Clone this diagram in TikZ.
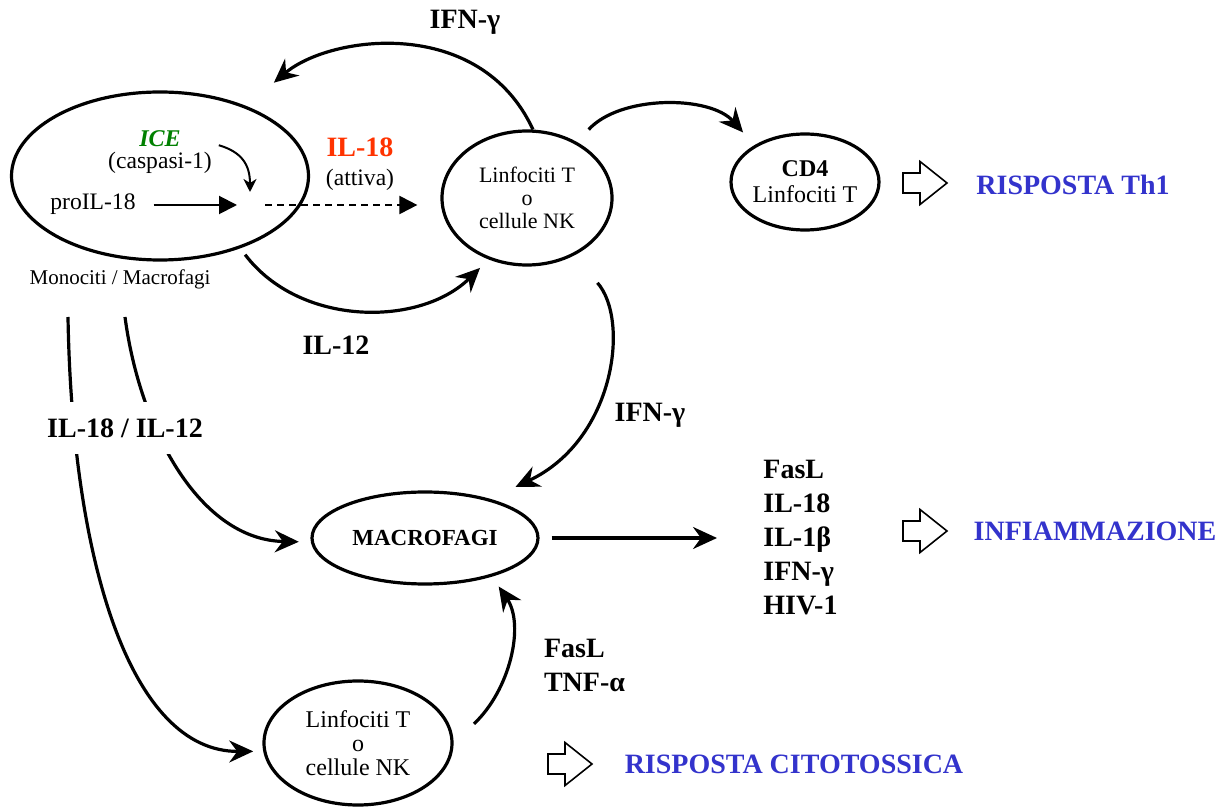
\documentclass[tikz,border=0pt]{standalone}
\usepackage{fontspec}
\setmainfont{Liberation Serif}
\usepackage{tikz}
\usetikzlibrary{positioning,shapes.geometric,arrows.meta}
\definecolor{icegreen}{RGB}{0,128,0}
\definecolor{ilred}{RGB}{255,51,0}
\definecolor{respblue}{RGB}{51,51,204}
\newcommand{\hollowarrow}[1]{%
  \draw[line width=0.8pt] (#1) ++(-22,10) -- ++(17,0) -- ++(0,11.5) -- ++(27,-21.5)
    -- ++(-27,-21.5) -- ++(0,11.5) -- ++(-17,0) -- cycle;}

\begin{document}
\begin{tikzpicture}[x=0.5pt, y=0.5pt,
    cell/.style={ellipse, draw, line width=1.6pt, inner sep=0pt, align=center,
      font=\fontsize{11}{11.5}\selectfont},
    lbl/.style={font=\bfseries\fontsize{14}{17}\selectfont},
    txt/.style={font=\fontsize{11.8}{13}\selectfont},
    resp/.style={text=respblue, font=\bfseries\fontsize{14}{16}\selectfont},
    arr/.style={line width=1.6pt, -{Stealth[length=12pt, width=11pt, inset=4pt]}},
    tri/.style={line width=1pt, -{Triangle[length=9pt, width=9pt]}}]
    \useasboundingbox (0,0) rectangle (1222,-807);
    % cells
    \node (mono) [cell, minimum width=148.5pt, minimum height=84pt] at (160,-176) {};
    \node (montxt) [font=\fontsize{10.5}{12}\selectfont] at (120,-279) {Monociti / Macrofagi};
    \node (linf) [cell, minimum width=85pt, minimum height=67pt] at (527,-198) {Linfociti T\\o\\cellule NK};
    \node (cd4) [cell, minimum width=72pt, minimum height=48pt, font=\fontsize{12}{13}\selectfont]
      at (805,-182) {\textbf{CD4}\\Linfociti T};
    \node (macro) [cell, minimum width=113pt, minimum height=46pt, font=\bfseries\fontsize{11.5}{13}\selectfont]
      at (425,-538) {MACROFAGI};
    \node (linfb) [cell, minimum width=94pt, minimum height=62pt, font=\fontsize{12}{12}\selectfont]
      at (358,-743) {Linfociti T\\o\\cellule NK};
    % inside the monocyte
    \node (ice) [font=\bfseries\itshape\fontsize{12}{13}\selectfont, text=icegreen] at (160,-139) {ICE};
    \node (casp) [txt] at (160,-163) {(caspasi-1)};
    \node (proil) [txt] at (93,-204) {proIL-18};
    \coordinate (cut) at (250,-205);
    \node (il18) [lbl, text=ilred] at (360,-147) {IL-18};
    \node (attiva) [txt] at (360,-180) {(attiva)};
    % labels
    \node (ifna) [lbl] at (465,-22) {IFN-γ};
    \node (il12) [lbl] at (336,-345) {IL-12};
    \node (ifnb) [lbl] at (650,-415) {IFN-γ};
    \node (fas) [lbl, align=left, anchor=west] at (537,-665) {FasL\\TNF-α};
    \node (list) [lbl, align=left, anchor=west, inner sep=0pt] at (763,-538) {FasL\\IL-18\\IL-1β\\IFN-γ\\HIV-1};
    % responses
    \node (th1) [resp] at (1073,-185) {RISPOSTA Th1};
    \node (infl) [resp] at (1095,-531) {INFIAMMAZIONE};
    \node (cito) [resp] at (794,-764) {RISPOSTA CITOTOSSICA};
    \hollowarrow{925,-183}
    \hollowarrow{925,-531}
    \hollowarrow{570,-764}
    % connectors
    \draw[tri, shorten <=5.5pt, shorten >=6.5pt] (proil.east |- cut) -- (cut);
    \draw[tri, dash pattern=on 3.5pt off 2.5pt, shorten <=7.5pt, shorten >=11.5pt] (cut) -- (cut -| linf.west);
    \draw[line width=1pt, -{Stealth[length=6.5pt, width=6.5pt, inset=2pt]}, shorten >=6.5pt]
      (casp.north east) .. controls (242,-152) and (250,-165) .. (cut);
    \draw[arr, shorten >=18pt] (linf.85) .. controls (480,-15) and (330,-35) .. (mono.39);
    \draw[arr, shorten <=4pt, shorten >=6pt] (mono.-42) .. controls (300,-327) and (420,-327) .. (linf.-122);
    \draw[arr, shorten <=8.5pt, shorten >=8.5pt] (linf.48) .. controls (620,-95) and (710,-95) .. (cd4.144);
    \draw[arr, shorten <=18pt, shorten >=14pt] (linf.-51) .. controls (630,-320) and (615,-440) .. (macro.31);
    \draw[arr, shorten <=6pt, shorten >=23pt] (macro.east) -- (macro.east -| list.west);
    \draw[arr, shorten <=14pt, shorten >=6pt] (linfb.0) .. controls (510,-690) and (525,-625) .. (macro.-30);
    \coordinate (s1) at (68,-317);
    \coordinate (s2) at (125,-317);
    \draw[arr, shorten >=5pt] (s1) .. controls (72,-560) and (130,-752) .. (linfb.185);
    \draw[arr, shorten >=6pt] (s2) .. controls (140,-430) and (200,-540) .. (macro.182);
    \node (mix) [lbl, fill=white, minimum height=26pt] at (125,-428) {IL-18 / IL-12};
\end{tikzpicture}
\end{document}
